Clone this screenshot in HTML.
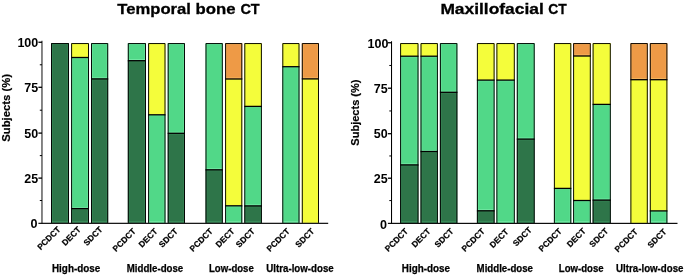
<!DOCTYPE html>
<html lang="en"><head><meta charset="utf-8"><title>Temporal bone CT / Maxillofacial CT</title>
<style>
html,body{margin:0;padding:0;background:#fff;}
svg{display:block;font-family:"Liberation Sans", Arial, sans-serif;fill:#000;}
</style></head>
<body>
<svg width="685" height="275" viewBox="0 0 685 275">
<rect x="0" y="0" width="685" height="275" fill="#fff"/>
<rect x="51.00" y="43.00" width="18.00" height="179.90" fill="#2e7549"/>
<path d="M52.35 222.20V44.35H67.65V222.20" fill="none" stroke="#43a06a" stroke-width="0.7" opacity="0.45"/>
<rect x="52.00" y="221.30" width="16.00" height="0.9" fill="#43a06a" opacity="0.75"/>
<path d="M51.50 222.90V43.55H68.50V222.90" fill="none" stroke="#000" stroke-width="0.95"/>
<text transform="translate(61.05 230.10) rotate(-45)" text-anchor="end" font-size="8.4" font-weight="bold" stroke="#000" stroke-width="0.2" stroke-linejoin="round">PCDCT</text>
<rect x="71.10" y="43.00" width="17.90" height="14.50" fill="#f4fd3b"/>
<rect x="71.10" y="57.50" width="17.90" height="151.10" fill="#51d888"/>
<path d="M72.45 208.00V58.45H87.65V208.00" fill="none" stroke="#86f3b4" stroke-width="0.7" opacity="0.45"/>
<rect x="72.10" y="207.10" width="15.90" height="0.9" fill="#86f3b4" opacity="0.75"/>
<rect x="71.10" y="208.60" width="17.90" height="14.30" fill="#2e7549"/>
<path d="M72.45 222.20V209.55H87.65V222.20" fill="none" stroke="#43a06a" stroke-width="0.7" opacity="0.45"/>
<rect x="72.10" y="221.30" width="15.90" height="0.9" fill="#43a06a" opacity="0.75"/>
<rect x="71.10" y="56.85" width="17.90" height="1.3" fill="#000"/>
<rect x="71.10" y="207.95" width="17.90" height="1.3" fill="#000"/>
<path d="M71.60 222.90V43.55H88.50V222.90" fill="none" stroke="#000" stroke-width="0.95"/>
<text transform="translate(81.45 230.10) rotate(-45)" text-anchor="end" font-size="8.4" font-weight="bold" stroke="#000" stroke-width="0.2" stroke-linejoin="round">DECT</text>
<rect x="91.00" y="43.00" width="17.20" height="35.90" fill="#51d888"/>
<path d="M92.35 78.30V44.35H106.85V78.30" fill="none" stroke="#86f3b4" stroke-width="0.7" opacity="0.45"/>
<rect x="92.00" y="77.40" width="15.20" height="0.9" fill="#86f3b4" opacity="0.75"/>
<rect x="91.00" y="78.90" width="17.20" height="144.00" fill="#2e7549"/>
<path d="M92.35 222.20V79.85H106.85V222.20" fill="none" stroke="#43a06a" stroke-width="0.7" opacity="0.45"/>
<rect x="92.00" y="221.30" width="15.20" height="0.9" fill="#43a06a" opacity="0.75"/>
<rect x="91.00" y="78.25" width="17.20" height="1.3" fill="#000"/>
<path d="M91.50 222.90V43.55H107.70V222.90" fill="none" stroke="#000" stroke-width="0.95"/>
<text transform="translate(103.05 230.10) rotate(-45)" text-anchor="end" font-size="8.4" font-weight="bold" stroke="#000" stroke-width="0.2" stroke-linejoin="round">SDCT</text>
<rect x="127.80" y="43.00" width="18.20" height="17.70" fill="#51d888"/>
<path d="M129.15 60.10V44.35H144.65V60.10" fill="none" stroke="#86f3b4" stroke-width="0.7" opacity="0.45"/>
<rect x="128.80" y="59.20" width="16.20" height="0.9" fill="#86f3b4" opacity="0.75"/>
<rect x="127.80" y="60.70" width="18.20" height="162.20" fill="#2e7549"/>
<path d="M129.15 222.20V61.65H144.65V222.20" fill="none" stroke="#43a06a" stroke-width="0.7" opacity="0.45"/>
<rect x="128.80" y="221.30" width="16.20" height="0.9" fill="#43a06a" opacity="0.75"/>
<rect x="127.80" y="60.05" width="18.20" height="1.3" fill="#000"/>
<path d="M128.30 222.90V43.55H145.50V222.90" fill="none" stroke="#000" stroke-width="0.95"/>
<text transform="translate(136.35 231.90) rotate(-45)" text-anchor="end" font-size="8.4" font-weight="bold" stroke="#000" stroke-width="0.2" stroke-linejoin="round">PCDCT</text>
<rect x="148.10" y="43.00" width="17.40" height="71.80" fill="#f4fd3b"/>
<rect x="148.10" y="114.80" width="17.40" height="108.10" fill="#51d888"/>
<path d="M149.45 222.20V115.75H164.15V222.20" fill="none" stroke="#86f3b4" stroke-width="0.7" opacity="0.45"/>
<rect x="149.10" y="221.30" width="15.40" height="0.9" fill="#86f3b4" opacity="0.75"/>
<rect x="148.10" y="114.15" width="17.40" height="1.3" fill="#000"/>
<path d="M148.60 222.90V43.55H165.00V222.90" fill="none" stroke="#000" stroke-width="0.95"/>
<text transform="translate(158.15 231.90) rotate(-45)" text-anchor="end" font-size="8.4" font-weight="bold" stroke="#000" stroke-width="0.2" stroke-linejoin="round">DECT</text>
<rect x="167.70" y="43.00" width="17.30" height="90.30" fill="#51d888"/>
<path d="M169.05 132.70V44.35H183.65V132.70" fill="none" stroke="#86f3b4" stroke-width="0.7" opacity="0.45"/>
<rect x="168.70" y="131.80" width="15.30" height="0.9" fill="#86f3b4" opacity="0.75"/>
<rect x="167.70" y="133.30" width="17.30" height="89.60" fill="#2e7549"/>
<path d="M169.05 222.20V134.25H183.65V222.20" fill="none" stroke="#43a06a" stroke-width="0.7" opacity="0.45"/>
<rect x="168.70" y="221.30" width="15.30" height="0.9" fill="#43a06a" opacity="0.75"/>
<rect x="167.70" y="132.65" width="17.30" height="1.3" fill="#000"/>
<path d="M168.20 222.90V43.55H184.50V222.90" fill="none" stroke="#000" stroke-width="0.95"/>
<text transform="translate(178.45 231.90) rotate(-45)" text-anchor="end" font-size="8.4" font-weight="bold" stroke="#000" stroke-width="0.2" stroke-linejoin="round">SDCT</text>
<rect x="205.50" y="43.00" width="17.30" height="126.80" fill="#51d888"/>
<path d="M206.85 169.20V44.35H221.45V169.20" fill="none" stroke="#86f3b4" stroke-width="0.7" opacity="0.45"/>
<rect x="206.50" y="168.30" width="15.30" height="0.9" fill="#86f3b4" opacity="0.75"/>
<rect x="205.50" y="169.80" width="17.30" height="53.10" fill="#2e7549"/>
<path d="M206.85 222.20V170.75H221.45V222.20" fill="none" stroke="#43a06a" stroke-width="0.7" opacity="0.45"/>
<rect x="206.50" y="221.30" width="15.30" height="0.9" fill="#43a06a" opacity="0.75"/>
<rect x="205.50" y="169.15" width="17.30" height="1.3" fill="#000"/>
<path d="M206.00 222.90V43.55H222.30V222.90" fill="none" stroke="#000" stroke-width="0.95"/>
<text transform="translate(213.35 231.90) rotate(-45)" text-anchor="end" font-size="8.4" font-weight="bold" stroke="#000" stroke-width="0.2" stroke-linejoin="round">PCDCT</text>
<rect x="225.10" y="43.00" width="17.20" height="36.00" fill="#ee9a46"/>
<path d="M226.45 78.40V44.35H240.95V78.40" fill="none" stroke="#f9c46a" stroke-width="0.7" opacity="0.45"/>
<rect x="226.10" y="77.50" width="15.20" height="0.9" fill="#f9c46a" opacity="0.75"/>
<rect x="225.10" y="79.00" width="17.20" height="126.80" fill="#f4fd3b"/>
<rect x="225.10" y="205.80" width="17.20" height="17.10" fill="#51d888"/>
<path d="M226.45 222.20V206.75H240.95V222.20" fill="none" stroke="#86f3b4" stroke-width="0.7" opacity="0.45"/>
<rect x="226.10" y="221.30" width="15.20" height="0.9" fill="#86f3b4" opacity="0.75"/>
<rect x="225.10" y="78.35" width="17.20" height="1.3" fill="#000"/>
<rect x="225.10" y="205.15" width="17.20" height="1.3" fill="#000"/>
<path d="M225.60 222.90V43.55H241.80V222.90" fill="none" stroke="#000" stroke-width="0.95"/>
<text transform="translate(235.15 231.90) rotate(-45)" text-anchor="end" font-size="8.4" font-weight="bold" stroke="#000" stroke-width="0.2" stroke-linejoin="round">DECT</text>
<rect x="244.30" y="43.00" width="17.60" height="63.40" fill="#f4fd3b"/>
<rect x="244.30" y="106.40" width="17.60" height="99.50" fill="#51d888"/>
<path d="M245.65 205.30V107.35H260.55V205.30" fill="none" stroke="#86f3b4" stroke-width="0.7" opacity="0.45"/>
<rect x="245.30" y="204.40" width="15.60" height="0.9" fill="#86f3b4" opacity="0.75"/>
<rect x="244.30" y="205.90" width="17.60" height="17.00" fill="#2e7549"/>
<path d="M245.65 222.20V206.85H260.55V222.20" fill="none" stroke="#43a06a" stroke-width="0.7" opacity="0.45"/>
<rect x="245.30" y="221.30" width="15.60" height="0.9" fill="#43a06a" opacity="0.75"/>
<rect x="244.30" y="105.75" width="17.60" height="1.3" fill="#000"/>
<rect x="244.30" y="205.25" width="17.60" height="1.3" fill="#000"/>
<path d="M244.80 222.90V43.55H261.40V222.90" fill="none" stroke="#000" stroke-width="0.95"/>
<text transform="translate(255.45 231.90) rotate(-45)" text-anchor="end" font-size="8.4" font-weight="bold" stroke="#000" stroke-width="0.2" stroke-linejoin="round">SDCT</text>
<rect x="282.30" y="43.00" width="17.20" height="23.70" fill="#f4fd3b"/>
<rect x="282.30" y="66.70" width="17.20" height="156.20" fill="#51d888"/>
<path d="M283.65 222.20V67.65H298.15V222.20" fill="none" stroke="#86f3b4" stroke-width="0.7" opacity="0.45"/>
<rect x="283.30" y="221.30" width="15.20" height="0.9" fill="#86f3b4" opacity="0.75"/>
<rect x="282.30" y="66.05" width="17.20" height="1.3" fill="#000"/>
<path d="M282.80 222.90V43.55H299.00V222.90" fill="none" stroke="#000" stroke-width="0.95"/>
<text transform="translate(290.35 231.90) rotate(-45)" text-anchor="end" font-size="8.4" font-weight="bold" stroke="#000" stroke-width="0.2" stroke-linejoin="round">PCDCT</text>
<rect x="301.80" y="43.00" width="17.20" height="35.90" fill="#ee9a46"/>
<path d="M303.15 78.30V44.35H317.65V78.30" fill="none" stroke="#f9c46a" stroke-width="0.7" opacity="0.45"/>
<rect x="302.80" y="77.40" width="15.20" height="0.9" fill="#f9c46a" opacity="0.75"/>
<rect x="301.80" y="78.90" width="17.20" height="144.00" fill="#f4fd3b"/>
<rect x="301.80" y="78.25" width="17.20" height="1.3" fill="#000"/>
<path d="M302.30 222.90V43.55H318.50V222.90" fill="none" stroke="#000" stroke-width="0.95"/>
<text transform="translate(314.85 231.90) rotate(-45)" text-anchor="end" font-size="8.4" font-weight="bold" stroke="#000" stroke-width="0.2" stroke-linejoin="round">SDCT</text>
<rect x="41.50" y="40.75" width="0.95" height="182.75" fill="#000"/>
<rect x="38.40" y="222.75" width="289.80" height="1.15" fill="#000"/>
<rect x="38.40" y="41.60" width="3.6" height="1.3" fill="#000"/>
<text x="17.40" y="46.70" font-size="12" textLength="20.9" lengthAdjust="spacingAndGlyphs" font-weight="bold">100</text>
<rect x="38.40" y="86.65" width="3.6" height="1.3" fill="#000"/>
<text x="24.35" y="91.75" font-size="12" textLength="13.9" lengthAdjust="spacingAndGlyphs" font-weight="bold">75</text>
<rect x="38.40" y="132.45" width="3.6" height="1.3" fill="#000"/>
<text x="24.35" y="137.55" font-size="12" textLength="13.9" lengthAdjust="spacingAndGlyphs" font-weight="bold">50</text>
<rect x="38.40" y="177.45" width="3.6" height="1.3" fill="#000"/>
<text x="24.35" y="182.55" font-size="12" textLength="13.9" lengthAdjust="spacingAndGlyphs" font-weight="bold">25</text>
<text x="30.60" y="227.95" font-size="12" textLength="7.0" lengthAdjust="spacingAndGlyphs" font-weight="bold">0</text>
<rect x="39.80" y="64.28" width="2.2" height="1" fill="#000"/>
<rect x="39.80" y="109.70" width="2.2" height="1" fill="#000"/>
<rect x="39.80" y="155.10" width="2.2" height="1" fill="#000"/>
<rect x="39.80" y="200.00" width="2.2" height="1" fill="#000"/>
<text transform="translate(9.80 141.80) rotate(-90)" font-size="11.2" textLength="67.8" lengthAdjust="spacingAndGlyphs" font-weight="bold" stroke="#000" stroke-width="0.2" stroke-linejoin="round">Subjects (%)</text>
<rect x="400.10" y="43.00" width="18.40" height="13.20" fill="#f4fd3b"/>
<rect x="400.10" y="56.20" width="18.40" height="108.70" fill="#51d888"/>
<path d="M401.45 164.30V57.15H417.15V164.30" fill="none" stroke="#86f3b4" stroke-width="0.7" opacity="0.45"/>
<rect x="401.10" y="163.40" width="16.40" height="0.9" fill="#86f3b4" opacity="0.75"/>
<rect x="400.10" y="164.90" width="18.40" height="58.05" fill="#2e7549"/>
<path d="M401.45 222.25V165.85H417.15V222.25" fill="none" stroke="#43a06a" stroke-width="0.7" opacity="0.45"/>
<rect x="401.10" y="221.35" width="16.40" height="0.9" fill="#43a06a" opacity="0.75"/>
<rect x="400.10" y="55.55" width="18.40" height="1.3" fill="#000"/>
<rect x="400.10" y="164.25" width="18.40" height="1.3" fill="#000"/>
<path d="M400.60 222.95V43.55H418.00V222.95" fill="none" stroke="#000" stroke-width="0.95"/>
<text transform="translate(408.75 231.90) rotate(-45)" text-anchor="end" font-size="8.4" font-weight="bold" stroke="#000" stroke-width="0.2" stroke-linejoin="round">PCDCT</text>
<rect x="420.50" y="43.00" width="17.40" height="13.20" fill="#f4fd3b"/>
<rect x="420.50" y="56.20" width="17.40" height="95.30" fill="#51d888"/>
<path d="M421.85 150.90V57.15H436.55V150.90" fill="none" stroke="#86f3b4" stroke-width="0.7" opacity="0.45"/>
<rect x="421.50" y="150.00" width="15.40" height="0.9" fill="#86f3b4" opacity="0.75"/>
<rect x="420.50" y="151.50" width="17.40" height="71.45" fill="#2e7549"/>
<path d="M421.85 222.25V152.45H436.55V222.25" fill="none" stroke="#43a06a" stroke-width="0.7" opacity="0.45"/>
<rect x="421.50" y="221.35" width="15.40" height="0.9" fill="#43a06a" opacity="0.75"/>
<rect x="420.50" y="55.55" width="17.40" height="1.3" fill="#000"/>
<rect x="420.50" y="150.85" width="17.40" height="1.3" fill="#000"/>
<path d="M421.00 222.95V43.55H437.40V222.95" fill="none" stroke="#000" stroke-width="0.95"/>
<text transform="translate(431.15 231.90) rotate(-45)" text-anchor="end" font-size="8.4" font-weight="bold" stroke="#000" stroke-width="0.2" stroke-linejoin="round">DECT</text>
<rect x="439.90" y="43.00" width="17.50" height="49.30" fill="#51d888"/>
<path d="M441.25 91.70V44.35H456.05V91.70" fill="none" stroke="#86f3b4" stroke-width="0.7" opacity="0.45"/>
<rect x="440.90" y="90.80" width="15.50" height="0.9" fill="#86f3b4" opacity="0.75"/>
<rect x="439.90" y="92.30" width="17.50" height="130.65" fill="#2e7549"/>
<path d="M441.25 222.25V93.25H456.05V222.25" fill="none" stroke="#43a06a" stroke-width="0.7" opacity="0.45"/>
<rect x="440.90" y="221.35" width="15.50" height="0.9" fill="#43a06a" opacity="0.75"/>
<rect x="439.90" y="91.65" width="17.50" height="1.3" fill="#000"/>
<path d="M440.40 222.95V43.55H456.90V222.95" fill="none" stroke="#000" stroke-width="0.95"/>
<text transform="translate(454.15 231.90) rotate(-45)" text-anchor="end" font-size="8.4" font-weight="bold" stroke="#000" stroke-width="0.2" stroke-linejoin="round">SDCT</text>
<rect x="476.90" y="43.00" width="17.70" height="37.10" fill="#f4fd3b"/>
<rect x="476.90" y="80.10" width="17.70" height="130.70" fill="#51d888"/>
<path d="M478.25 210.20V81.05H493.25V210.20" fill="none" stroke="#86f3b4" stroke-width="0.7" opacity="0.45"/>
<rect x="477.90" y="209.30" width="15.70" height="0.9" fill="#86f3b4" opacity="0.75"/>
<rect x="476.90" y="210.80" width="17.70" height="12.15" fill="#2e7549"/>
<path d="M478.25 222.25V211.75H493.25V222.25" fill="none" stroke="#43a06a" stroke-width="0.7" opacity="0.45"/>
<rect x="477.90" y="221.35" width="15.70" height="0.9" fill="#43a06a" opacity="0.75"/>
<rect x="476.90" y="79.45" width="17.70" height="1.3" fill="#000"/>
<rect x="476.90" y="210.15" width="17.70" height="1.3" fill="#000"/>
<path d="M477.40 222.95V43.55H494.10V222.95" fill="none" stroke="#000" stroke-width="0.95"/>
<text transform="translate(485.35 231.90) rotate(-45)" text-anchor="end" font-size="8.4" font-weight="bold" stroke="#000" stroke-width="0.2" stroke-linejoin="round">PCDCT</text>
<rect x="496.40" y="43.00" width="18.40" height="37.10" fill="#f4fd3b"/>
<rect x="496.40" y="80.10" width="18.40" height="142.85" fill="#51d888"/>
<path d="M497.75 222.25V81.05H513.45V222.25" fill="none" stroke="#86f3b4" stroke-width="0.7" opacity="0.45"/>
<rect x="497.40" y="221.35" width="16.40" height="0.9" fill="#86f3b4" opacity="0.75"/>
<rect x="496.40" y="79.45" width="18.40" height="1.3" fill="#000"/>
<path d="M496.90 222.95V43.55H514.30V222.95" fill="none" stroke="#000" stroke-width="0.95"/>
<text transform="translate(509.05 232.30) rotate(-45)" text-anchor="end" font-size="8.4" font-weight="bold" stroke="#000" stroke-width="0.2" stroke-linejoin="round">DECT</text>
<rect x="516.80" y="43.00" width="17.90" height="96.10" fill="#51d888"/>
<path d="M518.15 138.50V44.35H533.35V138.50" fill="none" stroke="#86f3b4" stroke-width="0.7" opacity="0.45"/>
<rect x="517.80" y="137.60" width="15.90" height="0.9" fill="#86f3b4" opacity="0.75"/>
<rect x="516.80" y="139.10" width="17.90" height="83.85" fill="#2e7549"/>
<path d="M518.15 222.25V140.05H533.35V222.25" fill="none" stroke="#43a06a" stroke-width="0.7" opacity="0.45"/>
<rect x="517.80" y="221.35" width="15.90" height="0.9" fill="#43a06a" opacity="0.75"/>
<rect x="516.80" y="138.45" width="17.90" height="1.3" fill="#000"/>
<path d="M517.30 222.95V43.55H534.20V222.95" fill="none" stroke="#000" stroke-width="0.95"/>
<text transform="translate(532.45 230.70) rotate(-45)" text-anchor="end" font-size="8.4" font-weight="bold" stroke="#000" stroke-width="0.2" stroke-linejoin="round">SDCT</text>
<rect x="553.90" y="43.00" width="17.40" height="145.40" fill="#f4fd3b"/>
<rect x="553.90" y="188.40" width="17.40" height="34.55" fill="#51d888"/>
<path d="M555.25 222.25V189.35H569.95V222.25" fill="none" stroke="#86f3b4" stroke-width="0.7" opacity="0.45"/>
<rect x="554.90" y="221.35" width="15.40" height="0.9" fill="#86f3b4" opacity="0.75"/>
<rect x="553.90" y="187.75" width="17.40" height="1.3" fill="#000"/>
<path d="M554.40 222.95V43.55H570.80V222.95" fill="none" stroke="#000" stroke-width="0.95"/>
<text transform="translate(562.35 231.90) rotate(-45)" text-anchor="end" font-size="8.4" font-weight="bold" stroke="#000" stroke-width="0.2" stroke-linejoin="round">PCDCT</text>
<rect x="573.10" y="43.00" width="17.70" height="13.00" fill="#ee9a46"/>
<path d="M574.45 55.40V44.35H589.45V55.40" fill="none" stroke="#f9c46a" stroke-width="0.7" opacity="0.45"/>
<rect x="574.10" y="54.50" width="15.70" height="0.9" fill="#f9c46a" opacity="0.75"/>
<rect x="573.10" y="56.00" width="17.70" height="144.50" fill="#f4fd3b"/>
<rect x="573.10" y="200.50" width="17.70" height="22.45" fill="#51d888"/>
<path d="M574.45 222.25V201.45H589.45V222.25" fill="none" stroke="#86f3b4" stroke-width="0.7" opacity="0.45"/>
<rect x="574.10" y="221.35" width="15.70" height="0.9" fill="#86f3b4" opacity="0.75"/>
<rect x="573.10" y="55.35" width="17.70" height="1.3" fill="#000"/>
<rect x="573.10" y="199.85" width="17.70" height="1.3" fill="#000"/>
<path d="M573.60 222.95V43.55H590.30V222.95" fill="none" stroke="#000" stroke-width="0.95"/>
<text transform="translate(586.35 231.60) rotate(-45)" text-anchor="end" font-size="8.4" font-weight="bold" stroke="#000" stroke-width="0.2" stroke-linejoin="round">DECT</text>
<rect x="592.60" y="43.00" width="18.20" height="61.40" fill="#f4fd3b"/>
<rect x="592.60" y="104.40" width="18.20" height="95.70" fill="#51d888"/>
<path d="M593.95 199.50V105.35H609.45V199.50" fill="none" stroke="#86f3b4" stroke-width="0.7" opacity="0.45"/>
<rect x="593.60" y="198.60" width="16.20" height="0.9" fill="#86f3b4" opacity="0.75"/>
<rect x="592.60" y="200.10" width="18.20" height="22.85" fill="#2e7549"/>
<path d="M593.95 222.25V201.05H609.45V222.25" fill="none" stroke="#43a06a" stroke-width="0.7" opacity="0.45"/>
<rect x="593.60" y="221.35" width="16.20" height="0.9" fill="#43a06a" opacity="0.75"/>
<rect x="592.60" y="103.75" width="18.20" height="1.3" fill="#000"/>
<rect x="592.60" y="199.45" width="18.20" height="1.3" fill="#000"/>
<path d="M593.10 222.95V43.55H610.30V222.95" fill="none" stroke="#000" stroke-width="0.95"/>
<text transform="translate(608.85 231.60) rotate(-45)" text-anchor="end" font-size="8.4" font-weight="bold" stroke="#000" stroke-width="0.2" stroke-linejoin="round">SDCT</text>
<rect x="630.40" y="43.00" width="17.40" height="36.70" fill="#ee9a46"/>
<path d="M631.75 79.10V44.35H646.45V79.10" fill="none" stroke="#f9c46a" stroke-width="0.7" opacity="0.45"/>
<rect x="631.40" y="78.20" width="15.40" height="0.9" fill="#f9c46a" opacity="0.75"/>
<rect x="630.40" y="79.70" width="17.40" height="143.25" fill="#f4fd3b"/>
<rect x="630.40" y="79.05" width="17.40" height="1.3" fill="#000"/>
<path d="M630.90 222.95V43.55H647.30V222.95" fill="none" stroke="#000" stroke-width="0.95"/>
<text transform="translate(638.45 232.30) rotate(-45)" text-anchor="end" font-size="8.4" font-weight="bold" stroke="#000" stroke-width="0.2" stroke-linejoin="round">PCDCT</text>
<rect x="649.80" y="43.00" width="17.60" height="36.70" fill="#ee9a46"/>
<path d="M651.15 79.10V44.35H666.05V79.10" fill="none" stroke="#f9c46a" stroke-width="0.7" opacity="0.45"/>
<rect x="650.80" y="78.20" width="15.60" height="0.9" fill="#f9c46a" opacity="0.75"/>
<rect x="649.80" y="79.70" width="17.60" height="131.20" fill="#f4fd3b"/>
<rect x="649.80" y="210.90" width="17.60" height="12.05" fill="#51d888"/>
<path d="M651.15 222.25V211.85H666.05V222.25" fill="none" stroke="#86f3b4" stroke-width="0.7" opacity="0.45"/>
<rect x="650.80" y="221.35" width="15.60" height="0.9" fill="#86f3b4" opacity="0.75"/>
<rect x="649.80" y="79.05" width="17.60" height="1.3" fill="#000"/>
<rect x="649.80" y="210.25" width="17.60" height="1.3" fill="#000"/>
<path d="M650.30 222.95V43.55H666.90V222.95" fill="none" stroke="#000" stroke-width="0.95"/>
<text transform="translate(667.05 232.30) rotate(-45)" text-anchor="end" font-size="8.4" font-weight="bold" stroke="#000" stroke-width="0.2" stroke-linejoin="round">SDCT</text>
<rect x="391.00" y="41.25" width="1.05" height="182.30" fill="#000"/>
<rect x="387.90" y="222.80" width="289.60" height="1.15" fill="#000"/>
<rect x="387.90" y="42.10" width="3.6" height="1.3" fill="#000"/>
<text x="367.55" y="48.30" font-size="12" textLength="20.9" lengthAdjust="spacingAndGlyphs" font-weight="bold">100</text>
<rect x="387.90" y="87.55" width="3.6" height="1.3" fill="#000"/>
<text x="373.85" y="92.90" font-size="12" textLength="13.9" lengthAdjust="spacingAndGlyphs" font-weight="bold">75</text>
<rect x="387.90" y="133.05" width="3.6" height="1.3" fill="#000"/>
<text x="373.85" y="138.40" font-size="12" textLength="13.9" lengthAdjust="spacingAndGlyphs" font-weight="bold">50</text>
<rect x="387.90" y="177.55" width="3.6" height="1.3" fill="#000"/>
<text x="373.85" y="182.60" font-size="12" textLength="13.9" lengthAdjust="spacingAndGlyphs" font-weight="bold">25</text>
<text x="379.90" y="228.65" font-size="12" textLength="7.0" lengthAdjust="spacingAndGlyphs" font-weight="bold">0</text>
<rect x="389.30" y="64.97" width="2.2" height="1" fill="#000"/>
<rect x="389.30" y="110.45" width="2.2" height="1" fill="#000"/>
<rect x="389.30" y="155.45" width="2.2" height="1" fill="#000"/>
<rect x="389.30" y="200.07" width="2.2" height="1" fill="#000"/>
<text transform="translate(359.40 145.70) rotate(-90)" font-size="11.2" textLength="66.2" lengthAdjust="spacingAndGlyphs" font-weight="bold" stroke="#000" stroke-width="0.2" stroke-linejoin="round">Subjects (%)</text>
<text x="117.3" y="13.6" font-size="15.5" font-weight="bold" stroke="#000" stroke-width="0.3" textLength="73.6" lengthAdjust="spacingAndGlyphs">Temporal</text>
<text x="195.6" y="13.6" font-size="15.5" font-weight="bold" stroke="#000" stroke-width="0.3" textLength="40.0" lengthAdjust="spacingAndGlyphs">bone</text>
<text x="240.4" y="13.6" font-size="15.5" font-weight="bold" stroke="#000" stroke-width="0.3" textLength="19.3" lengthAdjust="spacingAndGlyphs">CT</text>
<text x="440.4" y="13.6" font-size="15.5" font-weight="bold" stroke="#000" stroke-width="0.3" textLength="103.4" lengthAdjust="spacingAndGlyphs">Maxillofacial</text>
<text x="548.3" y="13.6" font-size="15.5" font-weight="bold" stroke="#000" stroke-width="0.3" textLength="18.5" lengthAdjust="spacingAndGlyphs">CT</text>
<text x="52.0" y="271.6" font-size="10.4" font-weight="bold" stroke="#000" stroke-width="0.25" textLength="48.2" lengthAdjust="spacingAndGlyphs">High-dose</text>
<text x="126.8" y="271.6" font-size="10.4" font-weight="bold" stroke="#000" stroke-width="0.25" textLength="56.4" lengthAdjust="spacingAndGlyphs">Middle-dose</text>
<text x="209.0" y="271.6" font-size="10.4" font-weight="bold" stroke="#000" stroke-width="0.25" textLength="44.8" lengthAdjust="spacingAndGlyphs">Low-dose</text>
<text x="266.3" y="271.6" font-size="10.4" font-weight="bold" stroke="#000" stroke-width="0.25" textLength="67.4" lengthAdjust="spacingAndGlyphs">Ultra-low-dose</text>
<text x="401.8" y="271.6" font-size="10.4" font-weight="bold" stroke="#000" stroke-width="0.25" textLength="48.2" lengthAdjust="spacingAndGlyphs">High-dose</text>
<text x="476.6" y="271.6" font-size="10.4" font-weight="bold" stroke="#000" stroke-width="0.25" textLength="56.4" lengthAdjust="spacingAndGlyphs">Middle-dose</text>
<text x="558.8" y="271.6" font-size="10.4" font-weight="bold" stroke="#000" stroke-width="0.25" textLength="44.8" lengthAdjust="spacingAndGlyphs">Low-dose</text>
<text x="616.1" y="271.6" font-size="10.4" font-weight="bold" stroke="#000" stroke-width="0.25" textLength="67.4" lengthAdjust="spacingAndGlyphs">Ultra-low-dose</text>
</svg>
</body></html>
